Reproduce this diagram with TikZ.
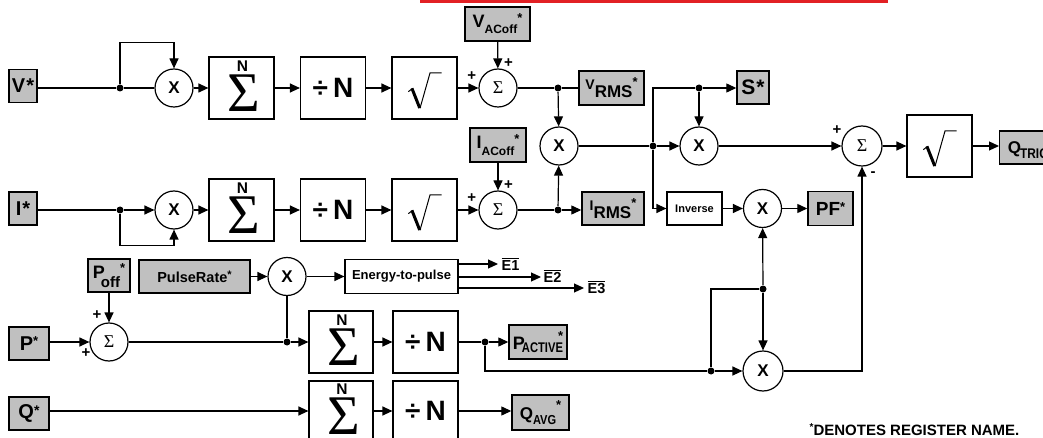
\documentclass[tikz,border=0pt]{standalone}
\usepackage{fontspec}
\setmainfont{Liberation Sans}
\newfontfamily\timesf{Liberation Serif}
\usetikzlibrary{arrows.meta}
\definecolor{boxgray}{RGB}{192,192,192}
\definecolor{redbar}{RGB}{226,32,36}
\newcommand\fsz[1]{\fontsize{#1}{#1}\selectfont}
\newcommand\strs[2]{\raisebox{#1}{\fsz{#2}*}}
\begin{document}
\begin{tikzpicture}[x=1pt,y=-1pt,line width=1.2pt,
  gbox/.style={draw, fill=boxgray, line width=1.4pt, inner sep=0pt, font=\bfseries},
  wbox/.style={draw, fill=white, line width=1.2pt, inner sep=0pt, minimum width=65pt, minimum height=62pt},
  sumbox/.style={wbox, path picture={
     \node[font=\bfseries\fsz{15.5}, inner sep=0pt] at ([shift={(1,-22)}]path picture bounding box.center) {N};
     \node[font=\timesf\fsz{56}, inner sep=0pt] at ([shift={(2.5,5.5)}]path picture bounding box.center) {Σ};}},
  divbox/.style={wbox, font=\bfseries\fsz{28}},
  sqrtbox/.style={wbox, path picture={
     \draw[line width=1pt, shift={(path picture bounding box.center)}] (-16.2,3.7) -- (-12.2,0.6);
     \draw[line width=3pt, line cap=butt, shift={(path picture bounding box.center)}] (-12.6,0.3) -- (-4.8,20);
     \draw[line width=1pt, shift={(path picture bounding box.center)}] (-4.5,20.3) -- (5.5,-15) -- (17.2,-15);}},
  circ/.style={circle, draw, fill=white, line width=1.2pt, minimum size=38pt, inner sep=0pt},
  mulc/.style={circ, font=\bfseries\fsz{17}},
  addc/.style={circ, font=\timesf\fsz{18}},
  dot/.style={circle, fill=black, inner sep=0pt, minimum size=7pt},
  arr/.style={-{Triangle[length=10pt,width=9pt]}},
  sgn/.style={font=\bfseries\fsz{15}, inner sep=0pt},
  elab/.style={font=\bfseries\fsz{14.5}, inner sep=0pt, anchor=base west}
]
\useasboundingbox (0,0) rectangle (1043,438);
\clip (0,0) rectangle (1043,438);
\fill[white] (0,0) rectangle (1043,438);
\fill[redbar] (420,0) rectangle (888,3);

% ---- top row (V)
\node[gbox, minimum width=28pt, minimum height=33pt, font=\bfseries\fsz{20}] (V) at (23,86) {V\hspace{1pt}*};
\node[dot] (d1) at (120,88) {};
\node[mulc] (X1) at (174,88) {X};
\node[sumbox] (S1) at (241.5,88) {};
\node[divbox] (D1) at (333,88) {÷\hspace{5pt}N};
\node[sqrtbox] (R1) at (424.5,88) {};
\node[addc] (A1) at (498,88) {Σ};
\node[gbox, minimum width=65pt, minimum height=34pt] (VAC) at (497.5,24) {{\fsz{18}V}\raisebox{-6pt}{\fsz{12}ACoff}\strs{5pt}{13}};
\node[dot] (d2) at (558,88) {};
\node[gbox, minimum width=65pt, minimum height=34pt] (VRMS) at (611.5,88) {\raisebox{8pt}{\fsz{14}V}{\fsz{17}RMS}\strs{11pt}{13}};
\node[mulc] (XM) at (559,146) {X};
\node[dot] (d3) at (653,146) {};
\node[dot] (d4) at (699,88) {};
\node[gbox, minimum width=32pt, minimum height=33pt, font=\bfseries\fsz{21}] (S) at (753,87.5) {S\hspace{1pt}*};
\node[mulc] (XR) at (699,146) {X};
\node[addc, minimum size=40pt] (A2) at (862,146) {Σ};
\node[sqrtbox] (R3) at (939.5,146) {};
\node[gbox, minimum width=62pt, minimum height=33pt, anchor=west] (QT) at (999,147.5) {{\fsz{17}Q}\hspace{-1pt}\raisebox{-5pt}{\scalebox{0.85}[1]{\fsz{14}TRIG}}\strs{8pt}{13}};

% ---- I row
\node[gbox, minimum width=28pt, minimum height=33pt, font=\bfseries\fsz{20}] (I) at (23,208.5) {I\hspace{1pt}*};
\node[dot] (d5) at (120,210) {};
\node[mulc] (X2) at (174,210) {X};
\node[sumbox] (S2) at (241.5,210) {};
\node[divbox] (D2) at (333,210) {÷\hspace{5pt}N};
\node[sqrtbox] (R2) at (424.5,210) {};
\node[addc] (A3) at (498,210) {Σ};
\node[gbox, minimum width=56pt, minimum height=34pt] (IAC) at (498,145) {{\fsz{18}I}\raisebox{-7pt}{\fsz{12}ACoff}\strs{5pt}{13}};
\node[dot] (d6) at (558,210) {};
\node[gbox, minimum width=62pt, minimum height=33pt] (IRMS) at (613,208.5) {\raisebox{8pt}{\fsz{14}I}{\fsz{17}RMS}\strs{11pt}{13}};
\node[wbox, minimum width=55pt, minimum height=33pt, font=\bfseries\fsz{11}] (INV) at (694.5,208.5) {Inverse};
\node[mulc] (XI) at (762.5,208.5) {X};
\node[gbox, minimum width=45pt, minimum height=34pt, font=\bfseries\fsz{19}] (PF) at (830.5,208.5) {PF\strs{4pt}{13}};

% ---- pulse row
\node[gbox, minimum width=42pt, minimum height=33pt] (POFF) at (109,275.5) {{\fsz{18}P}\hspace{-4pt}\raisebox{-9pt}{\fsz{15}off}\strs{6pt}{13}};
\node[gbox, minimum width=111pt, minimum height=33pt, font=\bfseries\fsz{14.5}] (PR) at (194.5,276.5) {PulseRate\strs{4pt}{11}};
\node[mulc] (XP) at (287,276.5) {X};
\node[wbox, minimum width=113pt, minimum height=34pt, font=\bfseries\fsz{13}] (E2P) at (401.5,276.5) {Energy-to-pulse};
\coordinate (e1) at (498,264);
\coordinate (e2) at (541,277);
\coordinate (e3) at (584,288);
\node[elab] (E1) at (501,270) {$\overline{\hbox{E1}}$};
\node[elab] (E2) at (543,282) {$\overline{\hbox{E2}}$};
\node[elab] (E3) at (587,293) {$\overline{\hbox{E3}}$};

% ---- P row
\node[gbox, minimum width=40pt, minimum height=33pt, font=\bfseries\fsz{20}] (P) at (29,343.5) {P\strs{5pt}{13}};
\node[addc] (A4) at (109,342) {Σ};
\node[dot] (d7) at (287,342) {};
\node[sumbox, minimum width=64pt] (S3) at (341,342) {};
\node[divbox] (D3) at (425.5,342) {÷\hspace{5pt}N};
\node[dot] (d8) at (485,342) {};
\node[gbox, minimum width=58pt, minimum height=34pt] (PA) at (538,342) {{\fsz{18}P}\hspace{-3pt}\raisebox{-3pt}{\scalebox{0.8}[1]{\fsz{14}ACTIVE}}\hspace{-5pt}\strs{9pt}{13}};
\node[dot] (d9) at (711,371) {};
\node[dot] (d10) at (763,289) {};
\node[mulc, minimum size=40pt] (XB) at (763,371) {X};

% ---- Q row
\node[gbox, minimum width=40pt, minimum height=33pt, font=\bfseries\fsz{20}] (Q) at (29,413.5) {Q\strs{3pt}{14}};
\node[sumbox, minimum width=64pt, minimum height=60pt] (S4) at (341,411) {};
\node[divbox, minimum height=60pt] (D4) at (425.5,411) {÷\hspace{5pt}N};
\node[gbox, minimum width=57pt, minimum height=35pt] (QA) at (540.5,412.5) {{\fsz{17}Q}\raisebox{-5pt}{\scalebox{0.85}[1]{\fsz{13}AVG}}\strs{10pt}{13}};

\node[font=\bfseries\fsz{15}, inner sep=0pt, anchor=base west] (note) at (809,435) {\strs{5pt}{10}DENOTES REGISTER NAME.};

% ---- signs
\node[sgn] (s1) at (508.5,62.7) {+};
\node[sgn] (s2) at (471.7,75.7) {+};
\node[sgn] (s3) at (508.5,184.7) {+};
\node[sgn] (s4) at (471.7,197.7) {+};
\node[sgn] (s5) at (97,315) {+};
\node[sgn] (s6) at (86,353) {+};
\node[sgn] (s7) at (837,130) {+};
\node[sgn] (s8) at (873,174) {-};

% ---- connectors top
\draw (V.east |- d1) -- (d1) -- (X1);
\draw[arr] (d1) |- ([yshift=26pt]X1.north) -- (X1.north);
\draw[arr] (X1) -- (S1);
\draw[arr] (S1) -- (D1);
\draw[arr] (D1) -- (R1);
\draw[arr] (R1) -- (A1);
\draw[arr] (VAC) -- (A1);
\draw (A1) -- (d2) -- (VRMS.west |- d2);
\draw[arr] (d2) -- (XM);
\draw (XM) -- (d3);
\draw[arr] (d3) -- (XR);
\draw (d3) |- (d4);
\draw[arr] (d4) -- (S.west |- d4);
\draw[arr] (d4) -- (XR);
\draw[arr] (d3) |- (INV.west);
\draw[arr] (XR) -- (A2);
\draw[arr] (A2) -- (R3);
\draw[arr] (R3) -- (QT.west |- R3);

% ---- connectors I
\draw (I.east |- d5) -- (d5);
\draw[arr] (d5) -- (X2);
\draw[arr] (d5) |- ([yshift=-16pt]X2.south) -- (X2.south);
\draw[arr] (X2) -- (S2);
\draw[arr] (S2) -- (D2);
\draw[arr] (D2) -- (R2);
\draw[arr] (R2) -- (A3);
\draw[arr] (IAC) -- (A3);
\draw (A3) -- (d6);
\draw[arr] (d6) -- (IRMS.west |- d6);
\draw[arr] (d6) -- (XM);
\draw[arr] (INV) -- (XI);
\draw[arr] (XI) -- (PF);

% ---- connectors pulse / P
\draw[arr] (POFF) -- (A4);
\draw[arr] (P.east |- A4) -- (A4);
\draw[arr] (PR) -- (XP);
\draw[arr] (XP) -- (E2P);
\draw (XP) -- (d7);
\draw (A4) -- (d7);
\draw[arr] (d7) -- (S3);
\draw[arr] (S3) -- (D3);
\draw (D3) -- (d8);
\draw[arr] (d8) -- (PA.west |- d8);
\draw (d8) |- (d9);
\draw[arr] (d9) -- (XB);
\draw (d9) |- (d10);
\draw[arr] (d10) -- (XI);
\draw[arr] (d10) -- (XB);
\draw[arr] (XB) -| (A2.south);
\draw[arr] (E2P.east |- e1) -- (e1);
\draw[arr] (E2P.east |- e2) -- (e2);
\draw[arr] (E2P.east |- e3) -- (e3);

% ---- connectors Q
\draw[arr] (Q.east |- S4) -- (S4);
\draw[arr] (S4) -- (D4);
\draw[arr] (D4) -- (QA.west |- D4);
\end{tikzpicture}
\end{document}
